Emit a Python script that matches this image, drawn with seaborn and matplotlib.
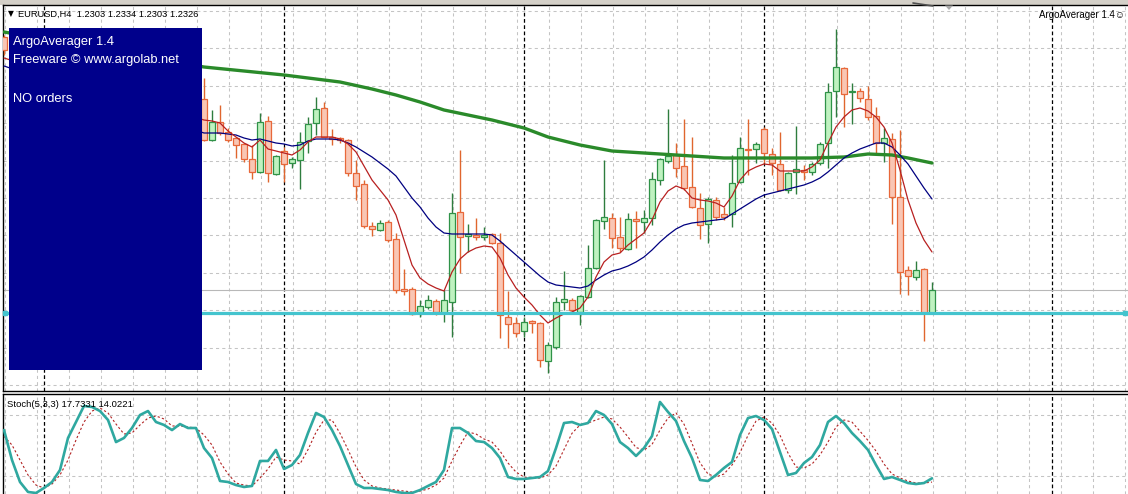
import numpy as np
import pandas as pd
import matplotlib
matplotlib.use("Agg")
import matplotlib.pyplot as plt
from matplotlib.patches import Rectangle, Polygon
from matplotlib.lines import Line2D
import matplotlib.transforms as mtransforms
import seaborn as sns

# ---------------- data (EURUSD, H4) ----------------
bar_idx = [0] + list(range(25, 117))

opens = [1.2579,
         1.2517, 1.2476, 1.2494, 1.2484, 1.2478, 1.2472, 1.2457, 1.2444, 1.2495, 1.2442,
         1.2465, 1.2453, 1.2456, 1.2475, 1.2493, 1.2508, 1.2479, 1.2478, 1.2476, 1.2443,
         1.2432, 1.2390, 1.2386, 1.2394, 1.2377, 1.2327, 1.2327, 1.2303, 1.2309, 1.2315,
         1.2303, 1.2314, 1.2404, 1.2380, 1.2381, 1.2379, 1.2382, 1.2373, 1.2299, 1.2293,
         1.2285, 1.2295, 1.2293, 1.2255, 1.2269, 1.2314, 1.2316, 1.2304, 1.2319, 1.2348,
         1.2395, 1.2398, 1.2379, 1.2367, 1.2397, 1.2394, 1.2398, 1.2436, 1.2455, 1.2461,
         1.2450, 1.2429, 1.2408, 1.2392, 1.2416, 1.2402, 1.2402, 1.2434, 1.2467, 1.2467,
         1.2487, 1.2462, 1.2452, 1.2426, 1.2444, 1.2446, 1.2444, 1.2453, 1.2473, 1.2525,
         1.2548, 1.2524, 1.2525, 1.2517, 1.2500, 1.2473, 1.2477, 1.2419, 1.2346, 1.2339,
         1.2347, 1.2303]
highs = [1.2581,
         1.2538, 1.2506, 1.2511, 1.2488, 1.2479, 1.2473, 1.2471, 1.2503, 1.2500, 1.2461,
         1.2469, 1.2459, 1.2484, 1.2499, 1.2519, 1.2514, 1.2487, 1.2479, 1.2477, 1.2456,
         1.2436, 1.2394, 1.2396, 1.2396, 1.2383, 1.2347, 1.2329, 1.2316, 1.2321, 1.2317,
         1.2326, 1.2423, 1.2466, 1.2392, 1.2398, 1.2389, 1.2383, 1.2383, 1.2325, 1.2299,
         1.2299, 1.2296, 1.2294, 1.2274, 1.2319, 1.2345, 1.2318, 1.2321, 1.2371, 1.2397,
         1.2456, 1.2403, 1.2399, 1.2403, 1.2405, 1.2406, 1.2444, 1.2458, 1.2507, 1.2473,
         1.2497, 1.2479, 1.2423, 1.2419, 1.2419, 1.2409, 1.2461, 1.2479, 1.2497, 1.2474,
         1.2489, 1.2468, 1.2484, 1.2444, 1.2490, 1.2451, 1.2454, 1.2474, 1.2533, 1.2587,
         1.2549, 1.2533, 1.2528, 1.2530, 1.2509, 1.2488, 1.2483, 1.2486, 1.2350, 1.2355,
         1.2348, 1.2334]
lows = [1.2561,
        1.2475, 1.2475, 1.2481, 1.2474, 1.2458, 1.2454, 1.2437, 1.2443, 1.2434, 1.2441,
        1.2434, 1.2448, 1.2427, 1.2463, 1.2481, 1.2479, 1.2471, 1.2473, 1.2440, 1.2416,
        1.2388, 1.2380, 1.2385, 1.2374, 1.2323, 1.2321, 1.2301, 1.2299, 1.2307, 1.2301,
        1.2294, 1.2279, 1.2343, 1.2364, 1.2376, 1.2376, 1.2372, 1.2278, 1.2268, 1.2279,
        1.2279, 1.2283, 1.2249, 1.2243, 1.2267, 1.2306, 1.2305, 1.2291, 1.2318, 1.2347,
        1.2387, 1.2368, 1.2364, 1.2366, 1.2368, 1.2383, 1.2391, 1.2431, 1.2453, 1.2439,
        1.2426, 1.2408, 1.2377, 1.2373, 1.2396, 1.2396, 1.2389, 1.2433, 1.2441, 1.2453,
        1.2453, 1.2441, 1.2425, 1.2423, 1.2422, 1.2436, 1.2441, 1.2451, 1.2448, 1.2499,
        1.2489, 1.2492, 1.2514, 1.2496, 1.2463, 1.2454, 1.2392, 1.2322, 1.2321, 1.2336,
        1.2275, 1.2303]
closes = [1.2566,
          1.2476, 1.2494, 1.2483, 1.2476, 1.2471, 1.2457, 1.2444, 1.2494, 1.2443, 1.2460,
          1.2452, 1.2457, 1.2474, 1.2492, 1.2507, 1.2479, 1.2477, 1.2476, 1.2443, 1.2430,
          1.2390, 1.2387, 1.2393, 1.2376, 1.2326, 1.2325, 1.2302, 1.2310, 1.2316, 1.2304,
          1.2316, 1.2403, 1.2379, 1.2382, 1.2379, 1.2381, 1.2373, 1.2301, 1.2292, 1.2283,
          1.2294, 1.2293, 1.2256, 1.2271, 1.2314, 1.2317, 1.2306, 1.2320, 1.2348, 1.2396,
          1.2399, 1.2378, 1.2368, 1.2397, 1.2395, 1.2398, 1.2437, 1.2457, 1.2460, 1.2448,
          1.2428, 1.2409, 1.2391, 1.2417, 1.2399, 1.2399, 1.2433, 1.2468, 1.2466, 1.2472,
          1.2463, 1.2453, 1.2426, 1.2443, 1.2447, 1.2444, 1.2452, 1.2472, 1.2524, 1.2549,
          1.2522, 1.2525, 1.2518, 1.2499, 1.2473, 1.2478, 1.2419, 1.2344, 1.2340, 1.2346,
          1.2303, 1.2326]

ma_idx = [0] + list(range(25, 117))
ma_fast = [1.2558,
           1.2496, 1.2495, 1.2493, 1.2485, 1.2479, 1.2473, 1.2469, 1.2476, 1.2467, 1.2465,
           1.2463, 1.2461, 1.2466, 1.2474, 1.2479, 1.2479, 1.2479, 1.2477, 1.2472, 1.2464,
           1.2450, 1.2436, 1.2426, 1.2416, 1.2401, 1.2376, 1.2351, 1.2338, 1.2332, 1.2328,
           1.2325, 1.2344, 1.2357, 1.2364, 1.2368, 1.2370, 1.2369, 1.2358, 1.2341, 1.2328,
           1.2319, 1.2311, 1.2301, 1.2293, 1.2298, 1.2302, 1.2304, 1.2308, 1.2319, 1.2339,
           1.2354, 1.2361, 1.2363, 1.2371, 1.2377, 1.2383, 1.2396, 1.2414, 1.2425, 1.2430,
           1.2427, 1.2418, 1.2416, 1.2415, 1.2413, 1.2409, 1.2420, 1.2436, 1.2445, 1.2449,
           1.2452, 1.2451, 1.2445, 1.2445, 1.2445, 1.2445, 1.2449, 1.2456, 1.2473, 1.2489,
           1.2499, 1.2506, 1.2508, 1.2505, 1.2499, 1.2489, 1.2473, 1.2446, 1.2416, 1.2393,
           1.2376, 1.2364]
ma_mid = [1.2550,
          1.2483, 1.2483, 1.2483, 1.2482, 1.2481, 1.2478, 1.2476, 1.2477, 1.2475, 1.2473,
          1.2472, 1.2470, 1.2471, 1.2475, 1.2477, 1.2477, 1.2477, 1.2476, 1.2473, 1.2469,
          1.2464, 1.2459, 1.2453, 1.2447, 1.2440, 1.2429, 1.2418, 1.2409, 1.2398, 1.2389,
          1.2383, 1.2382, 1.2382, 1.2382, 1.2382, 1.2382, 1.2381, 1.2375, 1.2368, 1.2361,
          1.2354, 1.2347, 1.2340, 1.2334, 1.2331, 1.2330, 1.2329, 1.2328, 1.2330, 1.2336,
          1.2341, 1.2345, 1.2347, 1.2350, 1.2354, 1.2359, 1.2366, 1.2374, 1.2381, 1.2387,
          1.2391, 1.2393, 1.2394, 1.2395, 1.2396, 1.2397, 1.2402, 1.2407, 1.2412, 1.2417,
          1.2421, 1.2423, 1.2425, 1.2427, 1.2429, 1.2431, 1.2434, 1.2438, 1.2444, 1.2451,
          1.2458, 1.2463, 1.2467, 1.2470, 1.2473, 1.2473, 1.2469, 1.2461, 1.2452, 1.2440,
          1.2428, 1.2417]
slow_idx = [0, 25, 35, 42, 46, 49, 52, 55, 58, 61, 65, 68, 72, 76, 82, 86, 90, 95,
            101, 105, 108, 111, 113, 116]
ma_slow = [1.2584, 1.2549, 1.2541, 1.2534, 1.2527, 1.2521, 1.2514, 1.2506, 1.2501,
           1.2496, 1.2488, 1.2479, 1.2471, 1.2465, 1.2462, 1.2460, 1.2458, 1.2458,
           1.2458, 1.2459, 1.2462, 1.2461, 1.2458, 1.2453]

level_price = 1.2303
bid_price = 1.2326

stoch_idx = list(range(0, 117))
stoch_k = [65.2, 35.7, 14.1, 4.3, 3.3, 8.2, 14.1, 25.9, 57.4, 73.1,
           88.9, 87.9, 83.9, 75.1, 53.4, 57.4, 67.2, 80.0, 83.9, 73.1,
           70.2, 65.2, 71.1, 67.2, 67.2, 47.5, 37.7, 15.1, 14.1, 11.1,
           9.2, 10.2, 34.8, 34.8, 45.6, 26.9, 30.8, 40.7, 62.3, 82.0,
           78.0, 65.2, 49.5, 30.8, 12.1, 8.2, 8.2, 7.2, 6.2, 4.3,
           3.3, 3.3, 6.2, 10.2, 14.1, 25.9, 67.2, 67.2, 62.3, 54.4,
           53.4, 47.5, 37.7, 19.0, 17.1, 17.1, 18.0, 19.0, 24.9, 47.5,
           72.1, 73.1, 70.2, 72.1, 83.9, 80.0, 71.1, 53.4, 47.5, 39.7,
           47.5, 59.3, 92.8, 83.0, 74.1, 54.4, 37.7, 16.1, 15.1, 21.0,
           27.9, 33.8, 60.3, 77.0, 79.0, 75.1, 66.2, 43.6, 21.0, 23.0,
           32.8, 38.7, 50.5, 73.1, 79.0, 72.1, 62.3, 54.4, 45.6, 30.8,
           17.1, 19.0, 16.1, 13.1, 12.1, 13.1, 17.7331]
stoch_d = [59.0, 50.5, 35.7, 21.0, 11.1, 8.2, 12.1, 21.0, 35.7, 55.4,
           73.1, 83.9, 86.9, 82.0, 71.1, 61.3, 62.3, 70.2, 77.0, 79.0,
           76.1, 69.2, 69.2, 68.2, 67.2, 60.3, 50.5, 33.8, 22.0, 13.1,
           11.1, 10.2, 18.0, 26.9, 38.7, 35.7, 34.8, 31.8, 46.0, 63.0,
           75.1, 75.1, 62.0, 46.0, 29.0, 16.1, 10.2, 8.2, 7.2, 6.2,
           5.2, 4.3, 5.2, 7.2, 11.1, 18.0, 34.8, 50.0, 63.3, 61.3,
           56.4, 53.4, 44.6, 32.8, 23.9, 19.0, 18.0, 18.0, 21.0, 29.8,
           46.0, 62.0, 70.2, 72.1, 75.1, 78.0, 76.1, 68.2, 58.4, 48.0,
           45.5, 51.0, 65.2, 77.0, 82.0, 71.0, 52.0, 33.0, 22.0, 19.0,
           22.0, 30.8, 43.0, 60.0, 74.0, 78.0, 72.0, 60.0, 42.6, 28.9,
           27.9, 31.8, 40.7, 53.4, 68.2, 75.1, 73.0, 64.0, 55.0, 44.6,
           31.8, 22.0, 18.0, 15.1, 13.1, 13.1, 14.0221]
stoch_levels = [20, 80]
separators = [5, 35, 65, 95, 131]

header = "EURUSD,H4  1.2303 1.2334 1.2303 1.2326"
box_lines = ["ArgoAverager 1.4", "Freeware \u00a9 www.argolab.net", "", "NO orders"]

# ---------------- style ----------------
sns.set_style("white")
plt.rcParams["font.family"] = ["Liberation Sans", "DejaVu Sans"]

W, H = 1128, 494
fig = plt.figure(figsize=(W / 100, H / 100), dpi=100, facecolor="white")


def fx(px):
    return px / W


def fy(py):
    return 1 - py / H


ax = fig.add_axes([fx(3), fy(391), fx(1128) - fx(3), fy(5) - fy(391)])
axs = fig.add_axes([fx(3), fy(494), fx(1128) - fx(3), fy(394) - fy(494)])

GRID = "#C4C4C4"
for a in (ax, axs):
    a.set_facecolor("white")
    a.set_xlim(-0.125, 140.5)
    a.set_xticks(np.arange(0.125, 141, 4))
    a.tick_params(length=0, labelbottom=False, labelleft=False)
    a.grid(True, linestyle=(0, (3, 3)), color=GRID, linewidth=0.75)
    a.set_axisbelow(True)
    for s in a.spines.values():
        s.set_color("black")
        s.set_linewidth(1.0)
    a.spines["right"].set_visible(False)
    for sx in separators:
        a.axvline(sx, color="black", linestyle=(0, (3, 2)), linewidth=0.9, zorder=1)

axs.spines["bottom"].set_visible(False)

# ---------------- candles ----------------
o = np.array(opens)
h = np.array(highs)
l = np.array(lows)
c = np.array(closes)
bull = c >= o
wick_col = np.where(bull, "#2E7D3E", "#E0662E")
edge_col = np.where(bull, "#2F9248", "#E8683A")
fill_col = np.where(bull, "#BFF2C0", "#F9C6B4")
ax.vlines(bar_idx, l, h, colors=wick_col, linewidth=1.0, zorder=3)
body_h = np.maximum(np.abs(c - o), 0.00003)
ax.bar(bar_idx, body_h, bottom=np.minimum(o, c), width=0.7, color=fill_col,
       edgecolor=edge_col, linewidth=0.9, zorder=4)

# ---------------- moving averages ----------------
df_ma = pd.DataFrame({"bar": ma_idx, "fast": ma_fast, "mid": ma_mid})
df_slow = pd.DataFrame({"bar": slow_idx, "slow": ma_slow})
sns.lineplot(data=df_slow, x="bar", y="slow", ax=ax, color="#2A8A2A", linewidth=2.4,
             estimator=None, sort=False, legend=False, zorder=5)
sns.lineplot(data=df_ma, x="bar", y="mid", ax=ax, color="#000080", linewidth=0.9,
             estimator=None, sort=False, legend=False, zorder=6)
sns.lineplot(data=df_ma, x="bar", y="fast", ax=ax, color="#B82020", linewidth=0.9,
             estimator=None, sort=False, legend=False, zorder=6)

ax.axhline(bid_price, color="#B8B8B8", linewidth=0.8, zorder=2)
ax.axhline(level_price, color="#44C4CE", linewidth=2.3, zorder=7)
blend = mtransforms.blended_transform_factory(ax.transAxes, ax.transData)
ax.plot([0.002, 0.9975], [level_price, level_price], transform=blend, linestyle="none",
        marker="s", markersize=3.2, color="#44C4CE", zorder=8, clip_on=False)

ax.set_ylim(1.2225, 1.2611)
ax.set_yticks(1.2605 - 0.00374 * np.arange(11))
ax.set_xlabel("")
ax.set_ylabel("")
ax.set_xlim(-0.125, 140.5)

# ---------------- stochastic ----------------
df_st = pd.DataFrame({"bar": stoch_idx, "k": stoch_k, "d": stoch_d})
sns.lineplot(data=df_st, x="bar", y="d", ax=axs, color="#B22222", linewidth=0.8,
             linestyle=(0, (2, 2)), estimator=None, sort=False, legend=False, zorder=4)
sns.lineplot(data=df_st, x="bar", y="k", ax=axs, color="#2FA8A0", linewidth=1.9,
             estimator=None, sort=False, legend=False, zorder=5)
axs.set_ylim(2.3, 100.65)
axs.set_yticks(stoch_levels)
axs.set_xlim(-0.125, 140.5)
axs.set_xlabel("")
axs.set_ylabel("")

# ---------------- overlays ----------------
fig.add_artist(Rectangle((0, fy(5)), 1, 1 - fy(5), transform=fig.transFigure,
                         facecolor="#D4D0C8", edgecolor="none", zorder=0))
fig.add_artist(Rectangle((fx(9), fy(370)), fx(202) - fx(9), fy(28) - fy(370),
                         transform=fig.transFigure, facecolor="#00008B",
                         edgecolor="none", zorder=10))
fig.add_artist(Polygon([[fx(945), fy(5.5)], [fx(953), fy(5.5)], [fx(949), fy(10)]],
                       closed=True, transform=fig.transFigure, facecolor="#A8A8A8",
                       edgecolor="none", zorder=10))
fig.add_artist(Line2D([fx(913), fx(933)], [fy(3), fy(6)], transform=fig.transFigure,
                      color="#505050", linewidth=1.2, zorder=10))

box_y = [44.5, 63.5, 82.5, 101.5]
for txt, by in zip(box_lines, box_y):
    if txt:
        fig.text(fx(13), fy(by), txt, color="white", fontsize=9.3, va="baseline",
                 ha="left", zorder=11)

fig.text(fx(8), fy(16), "\u25bc", fontsize=5.5, family="DejaVu Sans", va="baseline",
         ha="left", color="black", zorder=11)
fig.text(fx(18), fy(17), header, fontsize=6.7, va="baseline", ha="left",
         color="black", zorder=11)
fig.text(fx(1125), fy(17.5), "ArgoAverager 1.4\u263a", fontsize=7,
         family=["Liberation Sans", "DejaVu Sans"], va="baseline", ha="right",
         color="black", zorder=11)
fig.text(fx(7), fy(407), "Stoch(5,3,3) " + f"{stoch_k[-1]:.4f} {stoch_d[-1]:.4f}",
         fontsize=6.8, va="baseline", ha="left", color="black", zorder=11)

fig.savefig("out.png", dpi=100, facecolor=fig.get_facecolor())
